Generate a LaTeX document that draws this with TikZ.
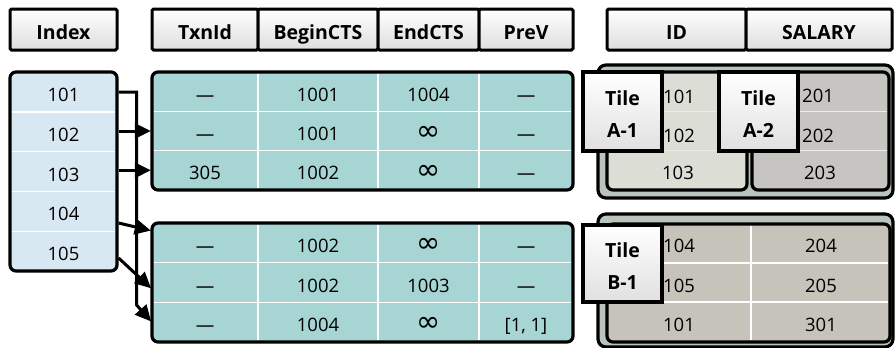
\documentclass[tikz,border=0pt]{standalone}
\usepackage{fontspec}
\setmainfont{Open Sans}
\newfontfamily\symfont{DejaVu Sans}
\newcommand\infsym{{\symfont\fontsize{29}{29}\selectfont ∞}}
\usetikzlibrary{arrows.meta,calc}
\definecolor{txnfill}{RGB}{167,213,211}
\definecolor{idxfill}{RGB}{216,232,243}
\definecolor{outerfill}{RGB}{184,196,188}
\definecolor{aonefill}{RGB}{220,222,214}
\definecolor{atwofill}{RGB}{199,197,193}
\definecolor{bfill}{RGB}{198,195,187}
\begin{document}
\begin{tikzpicture}[x=1pt,y=-1pt,
  frame/.style={draw=black, line width=3.2pt, rounded corners=6pt, inner sep=0pt},
  hdr/.style={draw=black, line width=3pt, top color=white, bottom color=black!13,
    font=\fontsize{19.5}{22}\selectfont\bfseries, inner sep=0pt, minimum height=41pt,
    text height=19.8pt, text depth=0pt, rounded corners=1.5pt},
  cell/.style={font=\fontsize{18.5}{21}\selectfont, inner sep=0pt, text height=19.2pt, text depth=0pt},
  rowbox/.style={inner sep=0pt, minimum height=39.3pt},
  div/.style={white, line width=1.4pt},
  softdiv/.style={white!85!gray, line width=1.2pt},
  link/.style={line width=3pt, -{Triangle[length=16pt,width=15pt]}, shorten >=1pt},
  tilebox/.style={draw=black, line width=3.2pt, top color=white, bottom color=black!12,
    inner sep=0pt, minimum width=79pt},
  tiletext/.style={font=\fontsize{19.5}{32}\selectfont\bfseries, align=center, inner sep=0pt}]
\useasboundingbox (0,0) rectangle (895,348);

% ---------- headers ----------
\node[hdr, minimum width=107pt] (hIndex) at (63.5,29.5) {Index};
\node[hdr, minimum width=106pt] (hTxn) at (205,29.5) {TxnId};
\node[hdr, minimum width=120pt] (hBegin) at (318,29.5) {BeginCTS};
\node[hdr, minimum width=101pt] (hEnd) at (428.5,29.5) {EndCTS};
\node[hdr, minimum width=94pt] (hPrev) at (526,29.5) {PreV};
\node[hdr, minimum width=139pt] (hID) at (676.5,29.5) {ID};
\node[hdr, minimum width=146pt] (hSal) at (819,29.5) {SALARY};

% ---------- index ----------
\node[frame, fill=idxfill, minimum width=107pt, minimum height=199pt] (idx) at (63.5,171.5) {};
\foreach \y in {111.8,151.6,191.4,231.2} \draw[div] (11.6,\y) -- (115.4,\y);
\foreach \t [count=\i] in {101,102,103,104,105}
  \node[cell] (ix\i) at (63.5,{72+39.8*(\i-0.5)}) {\t};

% ---------- upper version table ----------
\node[frame, fill=txnfill, minimum width=421pt, minimum height=118pt] (up) at (362.5,131) {};
\foreach \y in {111.3,150.7} \draw[div] (153.6,\y) -- (571.4,\y);
\foreach \x in {258,378,479} \draw[div] (\x,73.6) -- (\x,188.4);
\node[rowbox, minimum width=421pt] (u1) at (362.5,91.7) {};
\node[rowbox, minimum width=421pt] (u2) at (362.5,131) {};
\node[rowbox, minimum width=421pt] (u3) at (362.5,170.3) {};
\node[cell] (u1a) at (205,91.7) {—};
\node[cell] (u1b) at (318,91.7) {1001};
\node[cell] (u1c) at (428.5,91.7) {1004};
\node[cell] (u1d) at (526,91.7) {—};
\node[cell] (u2a) at (205,131) {—};
\node[cell] (u2b) at (318,131) {1001};
\node[cell] (u2c) at (428.5,131) {\infsym};
\node[cell] (u2d) at (526,131) {—};
\node[cell] (u3a) at (205,170.3) {305};
\node[cell] (u3b) at (318,170.3) {1002};
\node[cell] (u3c) at (428.5,170.3) {\infsym};
\node[cell] (u3d) at (526,170.3) {—};

% ---------- lower version table ----------
\node[frame, fill=txnfill, minimum width=421pt, minimum height=119pt] (lo) at (362.5,282.5) {};
\foreach \y in {262.7,302.3} \draw[div] (153.6,\y) -- (571.4,\y);
\foreach \x in {258,378,479} \draw[div] (\x,224.6) -- (\x,340.4);
\node[rowbox, minimum width=421pt] (l1) at (362.5,242.8) {};
\node[rowbox, minimum width=421pt] (l2) at (362.5,282.5) {};
\node[rowbox, minimum width=421pt] (l3) at (362.5,322.2) {};
\node[cell] (l1a) at (205,242.8) {—};
\node[cell] (l1b) at (318,242.8) {1002};
\node[cell] (l1c) at (428.5,242.8) {\infsym};
\node[cell] (l1d) at (526,242.8) {—};
\node[cell] (l2a) at (205,282.5) {—};
\node[cell] (l2b) at (318,282.5) {1002};
\node[cell] (l2c) at (428.5,282.5) {1003};
\node[cell] (l2d) at (526,282.5) {—};
\node[cell] (l3a) at (205,322.2) {—};
\node[cell] (l3b) at (318,322.2) {1004};
\node[cell] (l3c) at (428.5,322.2) {\infsym};
\node[cell] (l3d) at (526,322.2) {[1, 1]};

% ---------- arrows ----------
\draw[link] ($(idx.east)+(0,-79.5)$) -- ++(18,0) -- ++(0,213) -- (l3.west);
\draw[link] (idx.east |- u2.west) -- (u2.west);
\draw[link] (idx.east |- u3.west) -- (u3.west);
\draw[link] ($(idx.east)+(0,51.5)$) -- ($(l1.west)+(0,-12)$);
\draw[link] ($(idx.east)+(0,86.5)$) -- ($(l2.west)+(0,6.5)$);

% ---------- tiles A ----------
\node[frame, rounded corners=8pt, fill=outerfill, minimum width=295pt, minimum height=133pt] (ra) at (745.5,131.5) {};
\node[frame, fill=aonefill, minimum width=140pt, minimum height=118pt] (a1) at (677,131) {};
\node[frame, fill=atwofill, minimum width=137pt, minimum height=118pt] (a2) at (820.5,131) {};
\foreach \y in {111.3,150.7} {
  \draw[softdiv] (608.6,\y) -- (745.4,\y);
  \draw[softdiv] (753.6,\y) -- (887.4,\y);
}
\node[cell, anchor=west] (v101) at (663,94) {101};
\node[cell, anchor=west] (v102) at (663,133) {102};
\node[cell] (v103) at (678,170.3) {103};
\node[cell, anchor=west] (v201) at (802,93) {201};
\node[cell, anchor=west] (v202) at (802,133) {202};
\node[cell] (v203) at (820,170.3) {203};
\node[tilebox, minimum height=79pt] (tA1) at (622.5,111.5) {};
\node[tiletext] (tA1t) at ([yshift=-3pt]tA1.center) {Tile\\A-1};
\node[tilebox, minimum height=79pt] (tA2) at (758.5,111.5) {};
\node[tiletext] (tA2t) at ([yshift=-3pt]tA2.center) {Tile\\A-2};

% ---------- tiles B ----------
\node[frame, rounded corners=8pt, fill=outerfill, minimum width=295pt, minimum height=133pt] (rb) at (745.5,280.5) {};
\node[frame, fill=bfill, minimum width=283pt, minimum height=118pt] (b1) at (748.5,283) {};
\foreach \y in {263,302} \draw[div] (608.6,\y) -- (888.4,\y);
\draw[div] (751,225.6) -- (751,340.4);
\node[cell, anchor=west] (v104) at (663,242.8) {104};
\node[cell, anchor=west] (v105) at (663,282.5) {105};
\node[cell] (v101b) at (679,322.2) {101};
\node[cell] (v204) at (821,242.8) {204};
\node[cell] (v205) at (821,282.5) {205};
\node[cell] (v301) at (821,322.2) {301};
\node[tilebox, minimum height=77pt] (tB1) at (622.5,263.5) {};
\node[tiletext] (tB1t) at ([yshift=-3pt]tB1.center) {Tile\\B-1};
\end{tikzpicture}
\end{document}
